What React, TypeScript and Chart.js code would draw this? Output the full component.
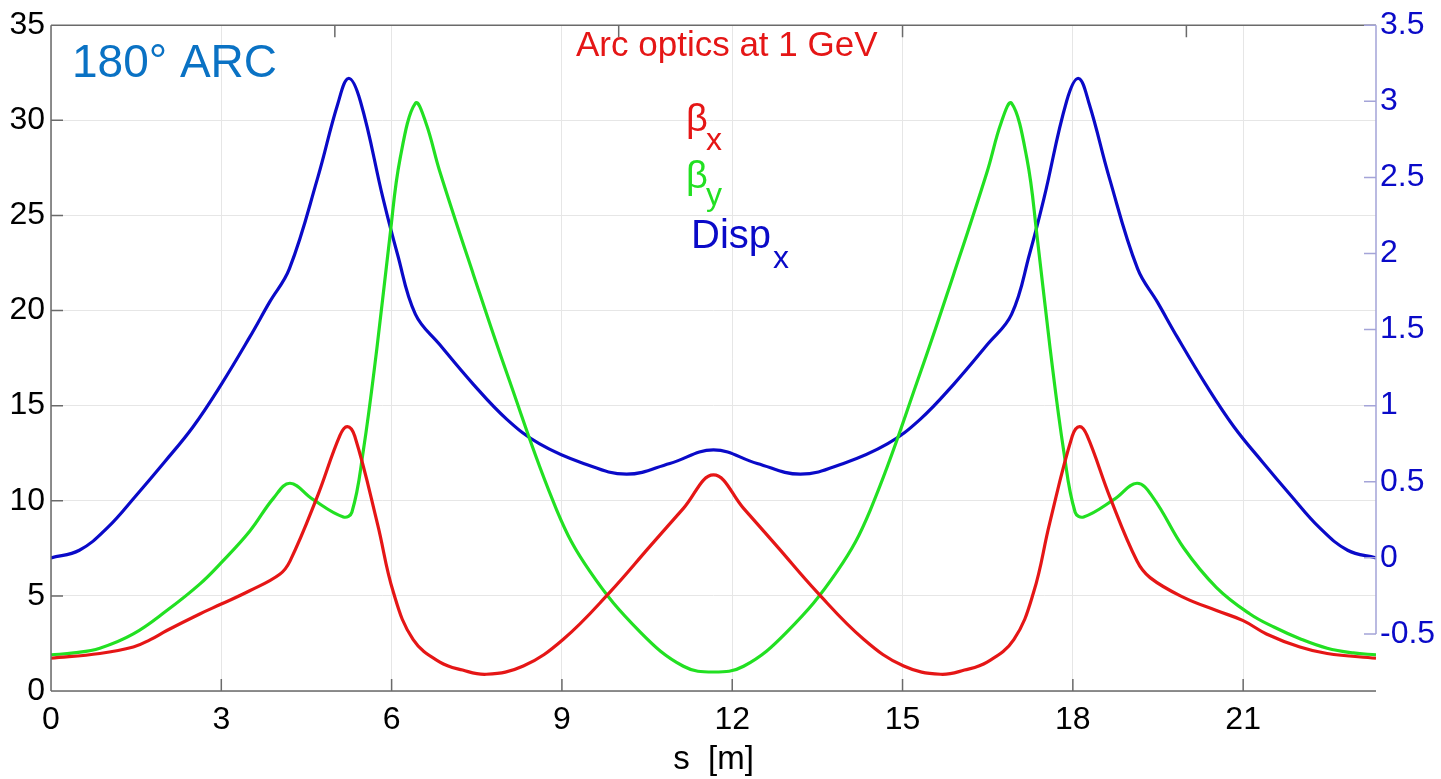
import React, { useEffect, useRef } from "react";
import { Chart, registerables } from "chart.js";

Chart.register(...registerables);

// s positions [m] and values
const betaXS = [0, 0.86, 1.45, 1.75, 2.04, 2.62, 3.0, 3.5, 4.03, 4.21, 4.68, 5.09, 5.22, 5.35, 5.75, 6.03, 6.38, 6.85, 7.25, 7.67, 8.32, 9.02, 9.85, 10.55, 11.14, 11.67, 12.2, 12.79, 13.49, 14.32, 15.02, 15.67, 16.09, 16.49, 16.96, 17.31, 17.59, 17.99, 18.12, 18.25, 18.66, 19.13, 19.36, 19.95, 20.53, 21.0, 21.41, 22.0, 22.48, 23.34];
const betaXV = [1.72, 1.97, 2.31, 2.7, 3.18, 4.05, 4.57, 5.27, 6.14, 6.83, 10.14, 13.44, 13.9, 13.4, 8.8, 5.2, 2.7, 1.52, 1.1, 0.88, 1.31, 2.71, 5.21, 7.6, 9.6, 11.36, 9.6, 7.6, 5.21, 2.71, 1.31, 0.88, 1.1, 1.52, 2.7, 5.2, 8.8, 13.4, 13.9, 13.44, 10.14, 6.83, 5.96, 4.92, 4.23, 3.7, 3.0, 2.31, 1.97, 1.72];

const betaYS = [0, 0.4, 0.86, 1.45, 2.04, 2.62, 3.0, 3.5, 3.92, 4.21, 4.6, 5.15, 5.3, 5.5, 5.74, 5.97, 6.15, 6.42, 6.6, 6.85, 7.44, 8.03, 8.91, 9.49, 10.38, 11.14, 11.67, 12.2, 12.96, 13.85, 14.43, 15.31, 15.9, 16.49, 16.74, 16.92, 17.19, 17.37, 17.6, 17.84, 18.04, 18.19, 18.74, 19.13, 19.42, 19.95, 20.53, 21.12, 21.55, 22.0, 22.48, 22.94, 23.34];
const betaYV = [1.9, 2.0, 2.25, 3.0, 4.23, 5.62, 6.75, 8.4, 10.14, 10.92, 10.1, 9.15, 9.4, 12.6, 18.0, 23.9, 28.0, 30.9, 29.9, 27.3, 21.9, 16.7, 9.5, 6.3, 3.1, 1.3, 1.0, 1.3, 3.1, 6.3, 9.5, 16.7, 21.9, 27.3, 29.9, 30.9, 28.0, 23.9, 18.0, 12.6, 9.4, 9.15, 10.1, 10.92, 10.14, 7.53, 5.44, 4.05, 3.35, 2.75, 2.25, 2.0, 1.9];

const dispS = [0, 0.5, 1.0, 1.5, 2.0, 2.5, 3.0, 3.5, 3.85, 4.2, 4.7, 5.05, 5.24, 5.45, 5.85, 6.1, 6.42, 6.85, 7.44, 8.03, 8.6, 9.38, 10.14, 10.9, 11.67, 12.44, 13.2, 13.96, 14.74, 15.31, 15.9, 16.49, 16.92, 17.24, 17.49, 17.89, 18.1, 18.29, 18.64, 19.14, 19.49, 19.84, 20.34, 20.84, 21.34, 21.84, 22.34, 22.84, 23.34];
const dispV = [0.0, 0.05, 0.2, 0.41, 0.63, 0.86, 1.14, 1.45, 1.68, 1.9, 2.5, 2.98, 3.15, 3.0, 2.36, 2.0, 1.6, 1.4, 1.14, 0.91, 0.75, 0.62, 0.55, 0.62, 0.71, 0.62, 0.55, 0.62, 0.75, 0.91, 1.14, 1.4, 1.6, 2.0, 2.36, 3.0, 3.15, 2.98, 2.5, 1.9, 1.68, 1.45, 1.14, 0.86, 0.63, 0.41, 0.2, 0.05, 0.0];

const xTicks = [0, 3, 6, 9, 12, 15, 18, 21];
const topTicks = [5, 10, 15, 20];
const leftTicks = [0, 5, 10, 15, 20, 25, 30, 35];
const rightTicks = [-0.5, 0, 0.5, 1, 1.5, 2, 2.5, 3, 3.5];
const S_MIN = 0;
const S_MAX = 23.34;
const LEFT_MIN = 0;
const LEFT_MAX = 35;
const RIGHT_MIN = -0.875;
const RIGHT_MAX = 3.5;

const FONT = "'Liberation Sans', Arial, Helvetica, sans-serif";
const RED = "#e51616";
const GREEN = "#22e022";
const BLUE = "#0a0ac8";
const AXIS = "#6a6a6a";
const RAXIS = "#a4a4d8";

const toPts = (s: number[], v: number[]) => s.map((x, i) => ({ x, y: v[i] }));

const overlay = {
  id: "overlay",
  afterDatasetsDraw(chart: any) {
    const { ctx, chartArea: a, scales } = chart;
    const sx = scales.x, yl = scales.y, yr = scales.y2;
    ctx.save();
    ctx.lineWidth = 1.5;
    ctx.strokeStyle = AXIS;
    ctx.beginPath();
    ctx.moveTo(a.left, a.top); ctx.lineTo(a.right, a.top);
    ctx.moveTo(a.left, a.top); ctx.lineTo(a.left, a.bottom);
    ctx.moveTo(a.left, a.bottom); ctx.lineTo(a.right, a.bottom);
    const tl = 12;
    xTicks.forEach((t) => {
      const p = sx.getPixelForValue(t);
      ctx.moveTo(p, a.bottom); ctx.lineTo(p, a.bottom - tl);
    });
    topTicks.forEach((t) => {
      const p = sx.getPixelForValue(t);
      ctx.moveTo(p, a.top); ctx.lineTo(p, a.top + tl);
    });
    leftTicks.forEach((t) => {
      const p = yl.getPixelForValue(t);
      ctx.moveTo(a.left, p); ctx.lineTo(a.left + tl, p);
    });
    ctx.stroke();
    ctx.strokeStyle = RAXIS;
    ctx.beginPath();
    const rTop = yr.getPixelForValue(rightTicks[rightTicks.length - 1]);
    const rBot = yr.getPixelForValue(rightTicks[0]);
    ctx.moveTo(a.right, rTop); ctx.lineTo(a.right, rBot);
    rightTicks.forEach((t) => {
      const p = yr.getPixelForValue(t);
      ctx.moveTo(a.right, p); ctx.lineTo(a.right - tl, p);
    });
    ctx.stroke();

    ctx.textAlign = "left";
    ctx.textBaseline = "alphabetic";
    ctx.fillStyle = "#0a72c4";
    ctx.font = `46px ${FONT}`;
    ctx.fillText("180° ARC", 72, 77);

    ctx.fillStyle = RED;
    ctx.font = `35px ${FONT}`;
    ctx.fillText("Arc optics at 1 GeV", 576, 56);

    ctx.font = `38px ${FONT}`;
    ctx.fillText("β", 686, 131);
    ctx.font = `32px ${FONT}`;
    ctx.fillText("x", 706, 150);

    ctx.fillStyle = GREEN;
    ctx.font = `38px ${FONT}`;
    ctx.fillText("β", 686, 188);
    ctx.font = `32px ${FONT}`;
    ctx.fillText("y", 706, 205);

    ctx.fillStyle = BLUE;
    ctx.font = `40px ${FONT}`;
    ctx.fillText("Disp", 691, 248);
    ctx.font = `32px ${FONT}`;
    ctx.fillText("x", 773, 268);

    ctx.fillStyle = "#000";
    ctx.textAlign = "center";
    ctx.font = `33px ${FONT}`;
    ctx.fillText("s  [m]", (a.left + a.right) / 2, 769);
    ctx.restore();
  },
};

const lineStyle = { borderWidth: 3.2, pointRadius: 0, tension: 0.4, fill: false };

export default function App() {
  const ref = useRef<HTMLCanvasElement | null>(null);
  useEffect(() => {
    if (!ref.current) return;
    const chart = new Chart(ref.current, {
      type: "line",
      data: {
        datasets: [
          { label: "βx", data: toPts(betaXS, betaXV), yAxisID: "y", borderColor: RED, ...lineStyle },
          { label: "βy", data: toPts(betaYS, betaYV), yAxisID: "y", borderColor: GREEN, ...lineStyle },
          { label: "Dispx", data: toPts(dispS, dispV), yAxisID: "y2", borderColor: BLUE, ...lineStyle },
        ],
      },
      options: {
        responsive: false,
        animation: false,
        layout: { padding: { top: 20, left: 0, right: 0, bottom: 0 } },
        plugins: { legend: { display: false }, tooltip: { enabled: false } },
        scales: {
          x: {
            type: "linear",
            min: S_MIN,
            max: S_MAX,
            afterBuildTicks: (s: any) => { s.ticks = xTicks.map((v) => ({ value: v })); },
            afterFit: (s: any) => { s.height = 88; },
            grid: { color: "#e6e6e6", lineWidth: 1, drawTicks: false },
            border: { display: false },
            ticks: { color: "#000", font: { family: FONT, size: 32 }, padding: 10, maxRotation: 0, callback: (v: any) => String(v) },
          },
          y: {
            type: "linear",
            position: "left",
            min: LEFT_MIN,
            max: LEFT_MAX,
            afterBuildTicks: (s: any) => { s.ticks = leftTicks.map((v) => ({ value: v })); },
            afterFit: (s: any) => { s.width = 51; },
            grid: { color: "#e6e6e6", lineWidth: 1, drawTicks: false },
            border: { display: false },
            ticks: { color: "#000", font: { family: FONT, size: 32 }, padding: 6, callback: (v: any) => String(v) },
          },
          y2: {
            type: "linear",
            position: "right",
            min: RIGHT_MIN,
            max: RIGHT_MAX,
            afterBuildTicks: (s: any) => { s.ticks = rightTicks.map((v) => ({ value: v })); },
            afterFit: (s: any) => { s.width = 65; },
            grid: { display: false, drawTicks: false },
            border: { display: false },
            ticks: { color: BLUE, font: { family: FONT, size: 32 }, padding: 4, callback: (v: any) => String(v) },
          },
        },
      },
      plugins: [overlay],
    } as any);
    return () => chart.destroy();
  }, []);
  return (
    <div style={{ position: "absolute", left: 0, top: 0, width: 1441, height: 779, background: "#fff" }}>
      <canvas ref={ref} width={1441} height={779} style={{ display: "block" }} />
    </div>
  );
}
